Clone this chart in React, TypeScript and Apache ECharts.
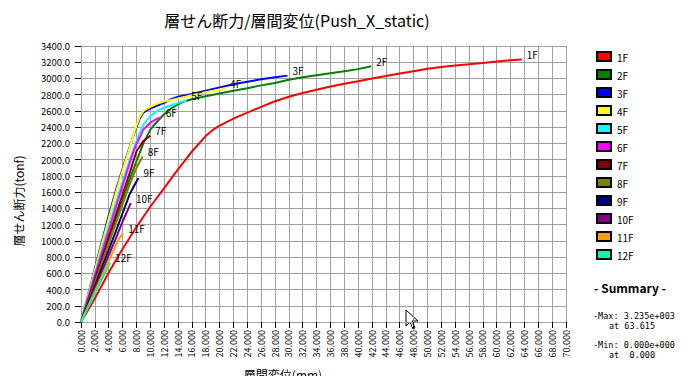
import React, { useEffect, useRef } from "react";
import * as echarts from "echarts";

// ---- data (displacement mm, shear tonf) ----
const floorNames = ["1F", "2F", "3F", "4F", "5F", "6F", "7F", "8F", "9F", "10F", "11F", "12F"];

const f1: [number, number][] = [[0,0],[2,290],[4,610],[6,900],[8,1170],[10,1420],[12,1650],[14,1880],[16,2100],[18,2290],[19.1,2370],[20,2420],[22,2505],[24,2580],[26,2650],[28,2720],[30,2775],[32,2820],[34,2860],[36,2900],[38,2935],[40,2965],[42,3000],[44,3030],[46,3060],[48,3090],[50,3120],[52,3140],[54,3160],[56,3175],[58,3190],[60,3208],[62,3224],[63.615,3235]];
const f2: [number, number][] = [[0,0],[1,255],[2,510],[3,765],[4,1015],[5,1265],[6,1510],[7,1750],[8,1980],[9,2200],[10,2370],[11,2470],[12,2560],[13,2630],[14,2680],[15,2720],[16,2745],[18,2780],[20,2815],[22,2850],[24,2880],[26,2915],[28,2945],[30,2985],[32,3015],[34,3040],[36,3065],[38,3090],[40,3115],[41.9,3150]];
const f3: [number, number][] = [[0,0],[1,330],[2,660],[3,990],[4,1310],[5,1610],[6,1890],[7,2150],[8,2400],[8.5,2510],[9,2580],[10,2630],[11,2665],[12,2700],[13,2745],[14,2775],[16,2810],[18,2850],[20,2890],[22,2930],[24,2960],[26,2990],[28,3015],[29.8,3035]];
const f4: [number, number][] = [[0,0],[1,320],[2,640],[3,960],[4,1270],[5,1580],[6,1870],[7,2140],[7.5,2280],[8,2420],[8.5,2530],[9,2600],[10,2650],[11,2690],[12,2715],[14,2755],[16,2795],[18,2830],[20,2860],[20.8,2875]];
const f5: [number, number][] = [[0,0],[1,300],[2,600],[3,890],[4,1180],[5,1460],[6,1730],[7,1990],[8,2230],[8.5,2330],[9,2430],[10,2540],[11,2600],[12,2640],[13,2670],[14,2700],[15.2,2725]];
const f6: [number, number][] = [[0,0],[1,285],[2,570],[3,850],[4,1130],[5,1405],[6,1680],[7,1950],[7.5,2080],[8,2190],[9,2370],[10,2455],[11,2505],[11.5,2520]];
const f7: [number, number][] = [[0,0],[1,262],[2,524],[3,786],[4,1048],[5,1310],[6,1570],[7,1830],[8,2100],[9,2230],[10,2295]];
const f8: [number, number][] = [[0,0],[1,242],[2,484],[3,726],[4,966],[5,1205],[6,1445],[7,1690],[8,1900],[8.9,2040]];
const f9: [number, number][] = [[0,0],[1,222],[2,445],[3,668],[4,890],[5,1110],[6,1340],[7,1570],[8,1730],[8.3,1775]];
const f10: [number, number][] = [[0,0],[1,205],[2,410],[3,615],[4,820],[5,1025],[6,1235],[7,1430],[7.2,1465]];
const f11: [number, number][] = [[0,0],[1,188],[2,376],[3,564],[4,752],[5,940],[5.5,1030],[6.1,1095]];
const f12: [number, number][] = [[0,0],[1,174],[2,348],[3,522],[4,696],[4.2,730]];

const floorData = [f1, f2, f3, f4, f5, f6, f7, f8, f9, f10, f11, f12];

const summaryLines = ["-Max: 3.235e+003", "at 63.615", "-Min: 0.000e+000", "at  0.000"];

// ---- styles ----
const colors = ["#ff0000", "#008000", "#0000ff", "#ffff00", "#00ffff", "#ff00ff", "#800000", "#808000", "#000080", "#800080", "#ff9900", "#00ff99"];
const FONT = "'Noto Sans CJK JP', 'Noto Sans', sans-serif";
const MONO = "'DejaVu Sans Mono', 'Liberation Mono', monospace";
const GRID_COLOR = "#a0a0a0";

export default function App() {
  const ref = useRef<HTMLDivElement>(null);
  useEffect(() => {
    if (!ref.current) return;
    const chart = echarts.init(ref.current, null, { renderer: "svg" });

    const series = floorNames.map((name, i) => ({
      type: "line",
      name,
      data: floorData[i],
      symbol: "none",
      showSymbol: false,
      silent: true,
      lineStyle: { width: 2, color: colors[i] },
      itemStyle: { color: colors[i] },
      endLabel: {
        show: true,
        formatter: name,
        color: "#000",
        fontSize: 10,
        fontFamily: FONT,
        distance: 5,
        offset: [0, -5],
      },
    }));

    const legendGraphics: any[] = [];
    floorNames.forEach((name, i) => {
      legendGraphics.push({
        type: "rect",
        shape: { x: 597, y: 52 + i * 18, width: 14, height: 9 },
        style: { fill: colors[i], stroke: "#000", lineWidth: 2 },
      });
      legendGraphics.push({
        type: "text",
        x: 617,
        y: 57 + i * 18,
        style: { text: name, fill: "#000", fontSize: 10, fontFamily: FONT, textVerticalAlign: "middle" },
      });
    });

    const smallText = (text: string, x: number, y: number) => ({
      type: "text",
      x,
      y,
      style: { text, fill: "#000", fontSize: 8.5, lineHeight: 9, fontFamily: MONO, textVerticalAlign: "middle" },
    });

    const summaryGraphics: any[] = [
      {
        type: "text",
        x: 594,
        y: 287,
        style: { text: "- Summary -", fill: "#000", fontSize: 12, fontWeight: "bold", fontFamily: FONT, textVerticalAlign: "middle" },
      },
      smallText(summaryLines[0], 593, 316),
      smallText(summaryLines[1], 609, 326),
      smallText(summaryLines[2], 593, 345),
      smallText(summaryLines[3], 609, 355),
    ];

    chart.setOption({
      animation: false,
      backgroundColor: "#ffffff",
      grid: { left: 81, top: 46, width: 485, height: 276, containLabel: false },
      xAxis: {
        type: "value",
        min: 0,
        max: 70,
        interval: 2,
        axisLine: { show: true, lineStyle: { color: GRID_COLOR, width: 1 } },
        axisTick: { show: true, length: 6, lineStyle: { color: "#000" } },
        axisLabel: {
          rotate: 90,
          margin: 8,
          color: "#000",
          fontSize: 9,
          fontFamily: FONT,
          formatter: (v: number) => v.toFixed(3),
        },
        splitLine: { show: true, lineStyle: { color: GRID_COLOR, width: 1 } },
      },
      yAxis: {
        type: "value",
        min: 0,
        max: 3400,
        interval: 200,
        axisLine: { show: true, lineStyle: { color: GRID_COLOR, width: 1 } },
        axisTick: { show: true, length: 6, lineStyle: { color: "#000" } },
        axisLabel: {
          margin: 11,
          color: "#000",
          fontSize: 9.5,
          fontFamily: FONT,
          formatter: (v: number) => v.toFixed(1),
        },
        splitLine: { show: true, lineStyle: { color: GRID_COLOR, width: 1 } },
      },
      series,
      graphic: [
        {
          type: "text",
          x: 297,
          y: 20,
          style: {
            text: "層せん断力/層間変位(Push_X_static)",
            fill: "#000",
            fontSize: 16,
            fontFamily: FONT,
            textAlign: "center",
            textVerticalAlign: "middle",
          },
        },
        {
          type: "text",
          x: 18,
          y: 201,
          rotation: Math.PI / 2,
          style: {
            text: "層せん断力(tonf)",
            fill: "#000",
            fontSize: 12,
            fontFamily: FONT,
            textAlign: "center",
            textVerticalAlign: "middle",
          },
        },
        {
          type: "text",
          x: 283,
          y: 374,
          style: {
            text: "層間変位(mm)",
            fill: "#000",
            fontSize: 12,
            fontFamily: FONT,
            textAlign: "center",
            textVerticalAlign: "middle",
          },
        },
        ...legendGraphics,
        ...summaryGraphics,
        {
          type: "polygon",
          shape: {
            points: [[406, 310], [406, 326], [410, 322], [413, 329], [415, 328], [412, 321], [418, 321]],
          },
          style: { fill: "#fff", stroke: "#000", lineWidth: 1 },
        },
      ],
    });
    return () => chart.dispose();
  }, []);

  return <div ref={ref} style={{ width: 698, height: 384, margin: -8 }} />;
}
